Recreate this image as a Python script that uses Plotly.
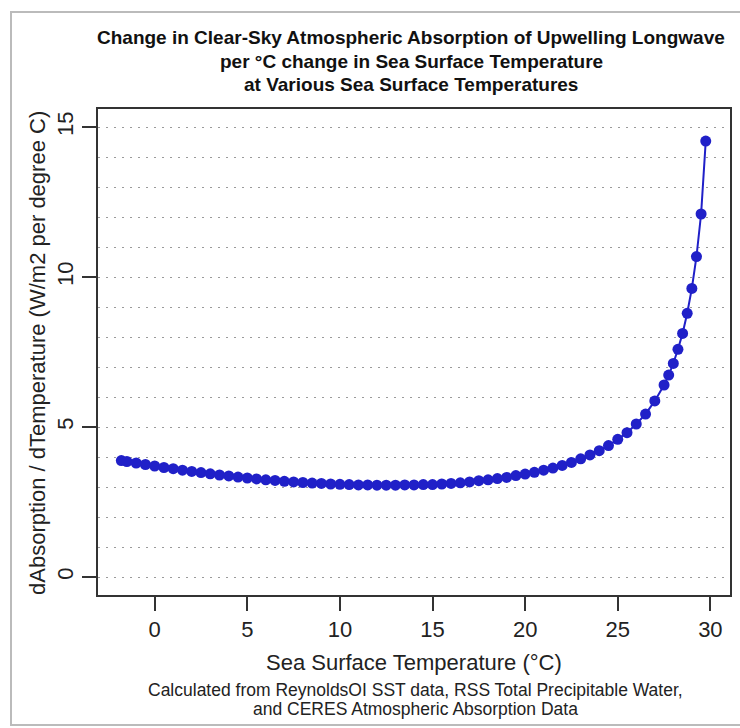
import plotly.graph_objects as go

# Data
sst = [-1.8, -1.5, -1.0, -0.5, 0.0, 0.5, 1.0, 1.5, 2.0, 2.5, 3.0, 3.5, 4.0, 4.5,
       5.0, 5.5, 6.0, 6.5, 7.0, 7.5, 8.0, 8.5, 9.0, 9.5, 10.0, 10.5, 11.0, 11.5,
       12.0, 12.5, 13.0, 13.5, 14.0, 14.5, 15.0, 15.5, 16.0, 16.5, 17.0, 17.5,
       18.0, 18.5, 19.0, 19.5, 20.0, 20.5, 21.0, 21.5, 22.0, 22.5, 23.0, 23.5,
       24.0, 24.5, 25.0, 25.5, 26.0, 26.5, 27.0, 27.5, 27.75, 28.0, 28.25, 28.5,
       28.75, 29.0, 29.25, 29.5, 29.75]
d_absorption = [3.88, 3.85, 3.80, 3.75, 3.70, 3.65, 3.61, 3.56, 3.52, 3.48, 3.44,
                3.40, 3.37, 3.33, 3.30, 3.27, 3.24, 3.22, 3.19, 3.17, 3.15, 3.13,
                3.12, 3.10, 3.09, 3.08, 3.07, 3.07, 3.06, 3.06, 3.06, 3.07, 3.07,
                3.08, 3.08, 3.10, 3.12, 3.14, 3.17, 3.21, 3.24, 3.28, 3.32, 3.38,
                3.43, 3.49, 3.56, 3.63, 3.72, 3.82, 3.94, 4.07, 4.21, 4.38, 4.59,
                4.81, 5.10, 5.43, 5.87, 6.40, 6.73, 7.12, 7.59, 8.12, 8.79, 9.62,
                10.68, 12.10, 14.53]
x_ticks = [0, 5, 10, 15, 20, 25, 30]
y_ticks = [0, 5, 10, 15]

title_lines = ["Change in Clear-Sky Atmospheric Absorption of Upwelling Longwave",
               "per °C change in Sea Surface Temperature",
               "at Various Sea Surface Temperatures"]
caption_lines = ["Calculated from ReynoldsOI SST data, RSS Total Precipitable Water,",
                 "and CERES Atmospheric Absorption Data"]

FONT = "Liberation Sans, Arial, sans-serif"
BLUE = "#2020C8"

fig = go.Figure()
fig.add_trace(go.Scatter(
    x=sst, y=d_absorption, mode="lines+markers",
    line=dict(color=BLUE, width=2),
    marker=dict(color=BLUE, size=11, line=dict(width=0)),
    showlegend=False,
))

L, R, T, B = 98, 10, 109, 133
W, H = 740, 728
pw, ph = W - L - R, H - T - B

def px_x(px):
    return (px - L) / pw

def px_y(py):
    return (H - B - py) / ph

annotations = []
for i, line in enumerate(title_lines):
    annotations.append(dict(
        text="<b>%s</b>" % line, x=px_x(411), y=px_y(38 + 23 * i),
        xref="paper", yref="paper", showarrow=False,
        font=dict(family=FONT, size=19, color="#111"),
        xanchor="center", yanchor="middle"))
for i, line in enumerate(caption_lines):
    annotations.append(dict(
        text=line, x=px_x(415), y=px_y(690 + 19 * i),
        xref="paper", yref="paper", showarrow=False,
        font=dict(family=FONT, size=17.5, color="#222"),
        xanchor="center", yanchor="middle"))
annotations.append(dict(
    text="Sea Surface Temperature (°C)", x=px_x(414), y=px_y(662),
    xref="paper", yref="paper", showarrow=False,
    font=dict(family=FONT, size=22, color="#222"),
    xanchor="center", yanchor="middle"))
annotations.append(dict(
    text="dAbsorption / dTemperature (W/m2 per degree C)", x=px_x(37), y=px_y(353),
    xref="paper", yref="paper", showarrow=False, textangle=-90,
    font=dict(family=FONT, size=22, color="#222"),
    xanchor="center", yanchor="middle"))

shapes = [dict(type="rect", xref="paper", yref="paper",
               x0=px_x(11), x1=px_x(760), y0=px_y(725), y1=px_y(12),
               line=dict(color="#BBBBBB", width=2), layer="below")]

fig.update_layout(
    width=W, height=H,
    margin=dict(l=L, r=R, t=T, b=B),
    paper_bgcolor="white", plot_bgcolor="white",
    annotations=annotations, shapes=shapes,
    xaxis=dict(range=[-3.06, 31.06], tickvals=x_ticks, ticks="outside",
               ticklen=14, tickwidth=1.5, tickcolor="#333",
               showline=True, mirror=True, linecolor="#333", linewidth=1.5,
               showgrid=False, zeroline=False, automargin=False,
               tickfont=dict(family=FONT, size=22, color="#222")),
    yaxis=dict(range=[-0.6, 15.6], tickvals=y_ticks, ticks="outside",
               ticklen=14, tickwidth=1.5, tickcolor="#333", tickangle=-90,
               showline=True, mirror=True, linecolor="#333", linewidth=1.5,
               showgrid=True, gridcolor="#9A9A9A", gridwidth=1,
               griddash="2px,6px", zeroline=False, automargin=False,
               minor=dict(dtick=1, showgrid=True, gridcolor="#9A9A9A",
                          gridwidth=1, griddash="2px,6px", ticks=""),
               tickfont=dict(family=FONT, size=22, color="#222")),
)

fig.write_html("out.html", config={"displayModeBar": False},
               post_script="document.body.style.margin='0';document.body.style.overflow='hidden';")
